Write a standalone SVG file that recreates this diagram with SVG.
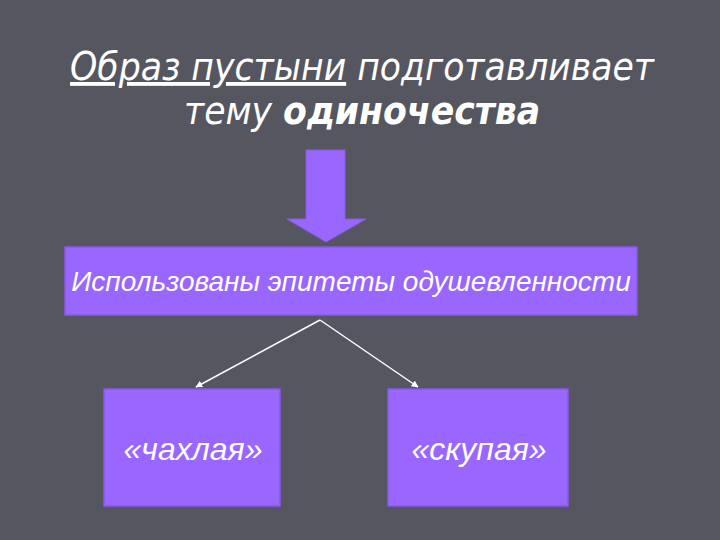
<svg xmlns="http://www.w3.org/2000/svg" width="720" height="540" viewBox="0 0 720 540">
<defs>
<style>
.box{fill:#9966ff;stroke:#8a5ae6;stroke-width:1.5}
.t{font-family:"Liberation Sans",Arial,sans-serif;font-style:italic;fill:#ffffff}
.title{font-family:"DejaVu Sans Condensed","DejaVu Sans",sans-serif;font-style:italic;fill:#ffffff;font-size:38.5px}
.conn{stroke:#ffffff;stroke-width:1.5;fill:none}
</style>
<marker id="ah" viewBox="0 0 10 10" refX="9" refY="5" markerWidth="7" markerHeight="7" orient="auto" markerUnits="userSpaceOnUse">
<path d="M0,0 L10,5 L0,10 z" fill="#ffffff"/>
</marker>
</defs>
<rect width="720" height="540" fill="#55565f"/>
<g id="title">
<text class="title" x="362" y="80" text-anchor="middle"><tspan text-decoration="underline">Образ пустыни</tspan> подготавливает</text>
<text class="title" x="362" y="124" text-anchor="middle">тему <tspan font-weight="bold">одиночества</tspan></text>
</g>
<g id="bigArrow">
<path d="M306,150 L345,150 L345,219 L366,219 L326,242 L287,219 L306,219 Z" fill="#9966ff" stroke="#8a5ae6" stroke-width="1"/>
</g>
<g id="nodeTop">
<rect class="box" x="65" y="247" width="572" height="68"/>
<text class="t" x="351" y="291" font-size="28" text-anchor="middle">Использованы эпитеты одушевленности</text>
</g>
<g id="nodeLeft">
<rect class="box" x="104" y="389" width="176" height="117"/>
<text class="t" x="193" y="460" font-size="32" text-anchor="middle">«чахлая»</text>
</g>
<g id="nodeRight">
<rect class="box" x="388" y="389" width="180" height="117"/>
<text class="t" x="479" y="460" font-size="32" text-anchor="middle">«скупая»</text>
</g>
<g id="connectors">
<line class="conn" x1="320" y1="320" x2="196" y2="387" marker-end="url(#ah)"/>
<line class="conn" x1="320" y1="320" x2="418" y2="387" marker-end="url(#ah)"/>
</g>
</svg>
